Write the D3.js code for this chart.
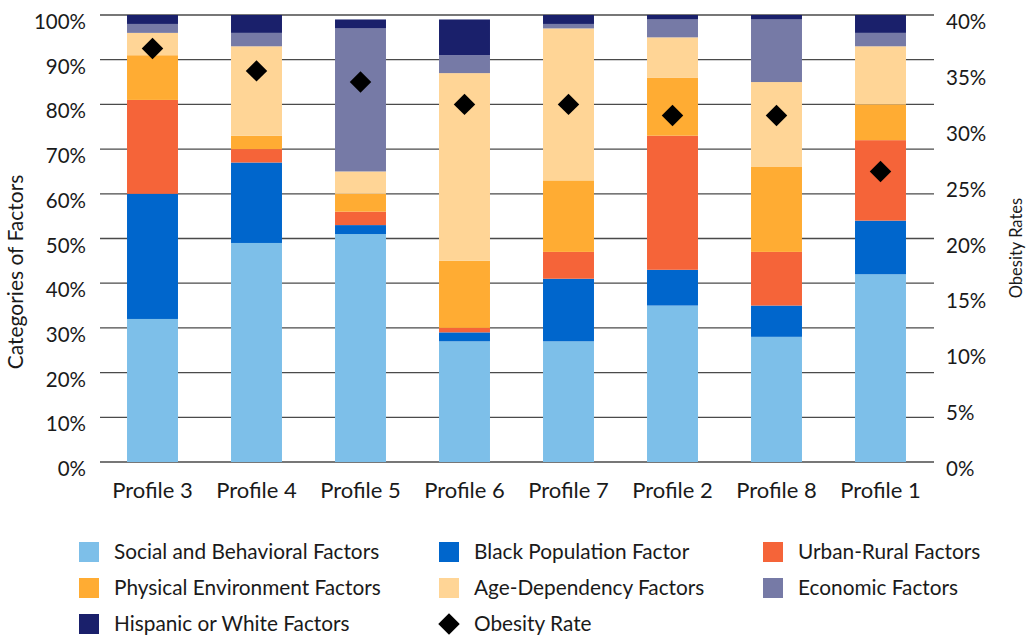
<!DOCTYPE html>
<html><head><meta charset="utf-8">
<script src="https://cdn.jsdelivr.net/npm/d3@7"></script>
<style>body{margin:0;background:#fff;} text{font-family:Lato, "Open Sans", sans-serif; fill:#1a1a1a;}</style>
</head><body>
<svg id="c" width="1026" height="636"></svg>
<script>
const categories = ["Profile 3","Profile 4","Profile 5","Profile 6","Profile 7","Profile 2","Profile 8","Profile 1"];
const seriesNames = ["Social and Behavioral Factors","Black Population Factor","Urban-Rural Factors","Physical Environment Factors","Age-Dependency Factors","Economic Factors","Hispanic or White Factors"];
const socialBehavioral = [32,49,51,27,27,35,28,42];
const blackPopulation  = [28,18,2,2,14,8,7,12];
const urbanRural       = [21,3,3,1,6,30,12,18];
const physicalEnv      = [10,3,4,15,16,13,19,8];
const ageDependency    = [5,20,5,42,34,9,19,13];
const economic         = [2,3,32,4,1,4,14,3];
const hispanicWhite    = [2,4,2,8,2,1,1,4];
const obesityRate      = [37,35,34,32,32,31,31,26];
const leftTicks  = [0,10,20,30,40,50,60,70,80,90,100];
const rightTicks = [0,5,10,15,20,25,30,35,40];
const colors = ["#7DBFE9","#0066CC","#F56439","#FFAC33","#FFD596","#767AA6","#1A206B"];

const seriesValues = [socialBehavioral,blackPopulation,urbanRural,physicalEnv,ageDependency,economic,hispanicWhite];
const table = categories.map((c,i)=>{const o={cat:c}; seriesNames.forEach((s,j)=>o[s]=seriesValues[j][i]); o.obesity=obesityRate[i]; return o;});
const stack = d3.stack().keys(seriesNames)(table);

const svg = d3.select("#c");
const L=100.5, R=932.5, T=15, B=462;
const x = d3.scaleBand().domain(categories).range([L,R]).paddingInner(0.51).paddingOuter(0.255);
const y = d3.scaleLinear().domain([0,100]).range([B,T]);
const y2 = d3.scaleLinear().domain([0,40]).range([B,T]);

// gridlines
svg.append("g").selectAll("line").data(leftTicks).join("line")
  .attr("x1",L-0.5).attr("x2",R+1.5).attr("y1",d=>y(d)).attr("y2",d=>y(d))
  .attr("stroke","#4a4a4a").attr("stroke-width",1.3);

// bars
svg.append("g").selectAll("g").data(stack).join("g").attr("fill",(d,i)=>colors[i])
  .selectAll("rect").data(d=>d).join("rect")
  .attr("x",d=>x(d.data.cat)).attr("width",x.bandwidth())
  .attr("y",d=>y(d[1])).attr("height",d=>y(d[0])-y(d[1]));

// diamonds
const dia = d3.symbol().type(d3.symbolSquare).size(230);
svg.append("g").selectAll("path").data(table).join("path")
  .attr("d",dia).attr("fill","#000")
  .attr("transform",d=>`translate(${x(d.cat)+x.bandwidth()/2},${y2(d.obesity)}) rotate(45)`);

// left axis labels
const ax = d3.axisLeft(y).tickValues(leftTicks).tickFormat(d=>d+"%").tickSize(0).tickPadding(0);
const gl = svg.append("g").attr("transform",`translate(86,7)`).call(ax);
gl.select(".domain").remove();
gl.selectAll("text").style("font-family","Lato").style("font-size","20.5px").attr("fill","#1a1a1a");

const ax2 = d3.axisRight(y2).tickValues(rightTicks).tickFormat(d=>d+"%").tickSize(0).tickPadding(0);
const gr = svg.append("g").attr("transform",`translate(946,7)`).call(ax2);
gr.select(".domain").remove();
gr.selectAll("text").style("font-family","Lato").style("font-size","20.5px").attr("fill","#1a1a1a");

// category labels
const axb = d3.axisBottom(x).tickSize(0).tickPadding(0);
const gb = svg.append("g").attr("transform",`translate(0,${B+20})`).call(axb);
gb.select(".domain").remove();
gb.selectAll("text").style("font-family","Lato").style("font-size","22px").attr("fill","#1a1a1a");

// axis titles
svg.append("text").attr("transform",`translate(23,272) rotate(-90)`).attr("text-anchor","middle")
  .style("font-size","21px").text("Categories of Factors");
svg.append("text").attr("transform",`translate(1022,248) rotate(-90)`).attr("text-anchor","middle")
  .style("font-size","16.5px").text("Obesity Rates");

// legend
const legendItems = seriesNames.map((s,i)=>({name:s,color:colors[i],type:"rect"})).concat([{name:"Obesity Rate",type:"diamond"}]);
const colX=[79,439,763], rowY=[552,588,624];
const lg = svg.append("g").selectAll("g").data(legendItems).join("g")
  .attr("transform",(d,i)=>`translate(${colX[i%3]},${rowY[Math.floor(i/3)]})`);
lg.filter(d=>d.type==="rect").append("rect").attr("x",0).attr("y",-10).attr("width",20).attr("height",20).attr("fill",d=>d.color);
lg.filter(d=>d.type==="diamond").append("path").attr("d",dia).attr("fill","#000").attr("transform","translate(10,0) rotate(45)");
lg.append("text").attr("x",35).attr("dy","0.35em").style("font-size","20.8px").text(d=>d.name);
</script>
</body></html>
